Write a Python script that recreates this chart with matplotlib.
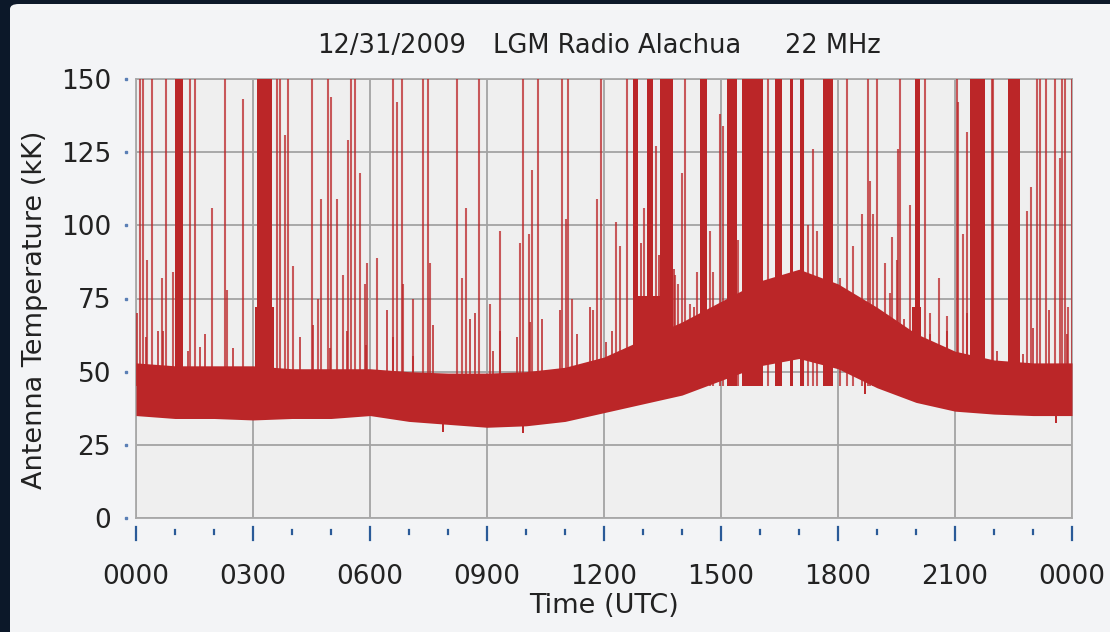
import matplotlib.pyplot as plt
import matplotlib.patches as mpatches
import numpy as np

# band of the receiver trace, read hourly (kK)
hours = list(range(25))
band_low = [35, 34, 34, 33.5, 34, 34, 35, 33, 32, 31, 31.5, 33, 36,
            39, 42, 47, 52, 54.5, 51, 44.5, 39.5, 36.5, 35.5, 35, 35]
band_high = [53, 52, 52, 52, 51, 51, 51, 50, 49.5, 49.5, 50, 51.5, 55,
             61, 67, 74, 81, 85, 80, 72, 63, 57, 54, 53, 53]

# interference spikes: time (h), peak (kK); 160 = off scale
spike_t = [0.10, 0.18, 0.27, 0.40, 0.66, 0.77, 0.94, 1.38, 1.51, 1.94, 2.28, 2.33,
           2.74, 3.62, 3.69, 3.82, 3.90, 4.02, 4.51, 4.67, 4.74, 4.92, 4.99, 5.15,
           5.30, 5.44, 5.51, 5.62, 5.74, 5.87, 5.92, 6.17, 6.58, 6.68, 6.81, 6.84,
           7.10, 7.35, 7.49, 7.54, 8.23, 8.35, 8.46, 8.79, 9.08, 9.33, 9.85, 9.92,
           10.08, 10.15, 10.31, 10.92, 11.03, 11.08, 11.17, 11.72, 11.81, 11.92, 12.31,
           12.41, 12.58, 13.03, 13.33, 13.82, 13.90, 14.00, 14.08, 14.20, 14.38,
           14.72, 14.79, 14.97, 15.04, 15.44, 16.21, 17.10, 17.23, 17.36, 17.46,
           18.05, 18.22, 18.38, 18.61, 18.78, 18.82, 18.90, 19.00, 19.20, 19.33,
           19.38, 19.50, 19.54, 19.59, 19.85, 20.23, 20.36, 20.59, 20.80, 21.04,
           21.08, 21.20, 21.30, 21.94, 21.97, 22.84, 22.94, 23.09, 23.18, 23.33,
           23.56, 23.69, 23.74, 23.82, 23.90, 23.99]
spike_top = [160, 160, 88, 160, 82, 160, 84, 160, 160, 106, 160, 78,
             143, 160, 160, 131, 160, 86, 160, 75, 109, 160, 144, 109,
             83, 129, 160, 160, 118, 80, 87, 89, 160, 142, 160, 80,
             75, 160, 160, 87, 160, 82, 106, 160, 73, 98, 94, 160,
             97, 119, 160, 160, 102, 160, 75, 71, 109, 160, 101,
             93, 160, 106, 127, 83, 80, 118, 160, 73, 84,
             98, 84, 138, 134, 95, 160, 160, 100, 126, 98,
             82, 160, 93, 104, 160, 115, 104, 160, 87, 77,
             96, 88, 126, 160, 107, 160, 70, 82, 69, 160,
             142, 97, 132, 160, 160, 105, 113, 160, 160, 160,
             160, 123, 160, 160, 72, 160]

# small spikes poking out of the band
small_t = [0.02, 0.26, 0.57, 0.70, 1.33, 1.64, 1.77, 2.49, 3.51, 4.20, 4.54, 4.97,
           5.40, 5.90, 6.43, 6.60, 7.10, 7.62, 8.56, 8.70, 9.15, 9.33, 9.77, 10.10,
           10.40, 10.87, 11.30, 11.64, 12.05, 12.20, 12.95, 13.40, 13.80, 14.30,
           19.70, 20.36, 20.80, 21.30, 22.07, 22.75, 23.00, 23.40, 23.87]
small_top = [70, 62, 64, 64, 57, 58.5, 63, 58, 56, 62, 66, 58,
             64, 59, 71, 62, 55.5, 66, 68, 70, 57, 64, 62, 67,
             68, 71, 63, 72, 60, 64, 94, 90, 85, 72,
             68, 63, 64, 70, 57, 56, 65, 71, 63]

# dips below the band
dip_t = [7.87, 9.92, 15.66, 18.70, 23.60]
dip_low = [29.5, 29, 45, 42.5, 32.5]

# saturated bursts: start (h), end (h)
burst_start = [1.00, 3.09, 12.74, 13.09, 13.44, 14.46, 15.15, 15.54, 16.38, 16.77,
               17.03, 17.62, 19.97, 21.38, 22.36]
burst_end = [1.21, 3.48, 12.88, 13.26, 13.77, 14.64, 15.41, 16.08, 16.56, 16.85,
             17.12, 17.87, 20.10, 21.77, 22.67]

# busy stretches where the band is raised: start (h), end (h), level (kK)
busy_start = [3.05, 12.85, 19.90]
busy_end = [3.55, 13.50, 20.12]
busy_level = [72, 76, 72]

hour_labels = ["0000", "0300", "0600", "0900", "1200", "1500", "1800", "2100", "0000"]

RED = "#bb2628"
TICK_BLUE = "#2a5a98"
INK = "#222222"
W, H = 1110, 632

fig = plt.figure(figsize=(W / 100, H / 100), dpi=100, facecolor="#0c1829")
panel = mpatches.FancyBboxPatch((10 / W, -0.05), 1.2, 1.05 - 4 / H,
                                boxstyle="round,pad=0,rounding_size=0.008",
                                transform=fig.transFigure, facecolor="#f3f4f6",
                                edgecolor="none", zorder=-5)
fig.patches.append(panel)

ax = fig.add_axes([136 / W, 1 - 518 / H, (1072 - 136) / W, (518 - 79) / H])
ax.set_zorder(2)
ax.set_facecolor("#efefef")
ax.set_xlim(0, 24)
ax.set_ylim(0, 150)

ax.fill_between(hours, band_low, band_high, color=RED, lw=0, zorder=3)
for s, e, lv in zip(busy_start, busy_end, busy_level):
    ax.fill_between([s, e], 45, lv, color=RED, lw=0, zorder=3)
for s, e in zip(burst_start, burst_end):
    ax.fill_between([s, e], 45, 160, color=RED, lw=0, zorder=3)
ax.vlines(spike_t, 45, spike_top, color=RED, lw=1.5, alpha=0.75, zorder=3)
ax.vlines(small_t, 45, small_top, color=RED, lw=1.4, alpha=0.8, zorder=3)
ax.vlines(dip_t, dip_low, np.array(dip_low) + 6, color=RED, lw=1.4, zorder=3)

ax.set_xticks(range(0, 25, 3))
ax.set_xticklabels(hour_labels)
ax.set_yticks(range(0, 151, 25))
ax.tick_params(length=0, labelsize=19, labelcolor=INK)
ax.tick_params(axis="x", pad=33)
ax.tick_params(axis="y", pad=18)
ax.grid(True, color="#a3a3a3", lw=1.3)
ax.set_axisbelow(True)
for sp in ax.spines.values():
    sp.set_color("#a8a8a8")
    sp.set_linewidth(1.3)

# detached tick marks, as in the original
xt = ax.get_xaxis_transform()
for hh in range(25):
    if hh % 3 == 0:
        ax.plot([hh, hh], [-0.021, -0.050], color=TICK_BLUE, lw=1.6, transform=xt, clip_on=False)
    else:
        ax.plot([hh, hh], [-0.027, -0.037], color=TICK_BLUE, lw=1.6, transform=xt, clip_on=False)
yt = ax.get_yaxis_transform()
ax.plot([-0.0105] * 7, range(0, 151, 25), ls="none", marker="s", ms=2,
        color="#5a7fb5", transform=yt, clip_on=False)

fig.text(392 / W, 1 - 46 / H, "12/31/2009", ha="center", va="center", fontsize=18.5, color=INK)
fig.text(617 / W, 1 - 46 / H, "LGM Radio Alachua", ha="center", va="center", fontsize=18.5, color=INK)
fig.text(833 / W, 1 - 46 / H, "22 MHz", ha="center", va="center", fontsize=18.5, color=INK)
fig.text(604 / W, 1 - 606 / H, "Time (UTC)", ha="center", va="center", fontsize=19.5, color=INK)
fig.text(35 / W, 1 - 310 / H, "Antenna Temperature (kK)", ha="center", va="center",
         rotation=90, fontsize=19.5, color=INK)

fig.savefig("out.png", dpi=100, facecolor=fig.get_facecolor())
